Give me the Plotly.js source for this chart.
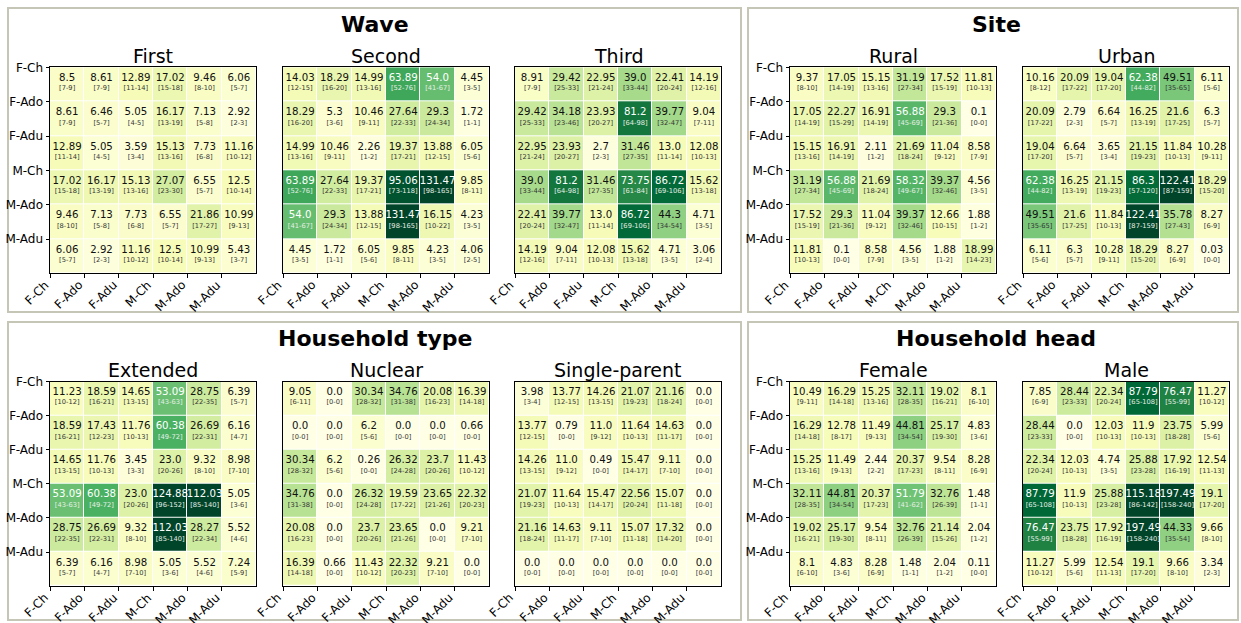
<!DOCTYPE html>
<html><head><meta charset="utf-8">
<script src="https://cdn.plot.ly/plotly-3.0.1.min.js"></script>
<style>body{margin:0;background:#fff}#chart{width:1241px;height:623px}</style>
</head><body><div id="chart"></div>
<script>
const labels = ['F-Ch','F-Ado','F-Adu','M-Ch','M-Ado','M-Adu'];
const groupTitles = ['Wave','Site','Household type','Household head'];
const panelTitles = ['First','Second','Third','Rural','Urban','Extended','Nuclear','Single-parent','Female','Male'];

const firstVals = [[8.5,8.61,12.89,17.02,9.46,6.06],[8.61,6.46,5.05,16.17,7.13,2.92],[12.89,5.05,3.59,15.13,7.73,11.16],[17.02,16.17,15.13,27.07,6.55,12.5],[9.46,7.13,7.73,6.55,21.86,10.99],[6.06,2.92,11.16,12.5,10.99,5.43]];
const firstCI = [["7-9","7-9","11-14","15-18","8-10","5-7"],["7-9","5-7","4-5","13-19","5-8","2-3"],["11-14","4-5","3-4","13-16","6-8","10-12"],["15-18","13-19","13-16","23-30","5-7","10-14"],["8-10","5-8","6-8","5-7","17-27","9-13"],["5-7","2-3","10-12","10-14","9-13","3-7"]];
const secondVals = [[14.03,18.29,14.99,63.89,54.0,4.45],[18.29,5.3,10.46,27.64,29.3,1.72],[14.99,10.46,2.26,19.37,13.88,6.05],[63.89,27.64,19.37,95.06,131.47,9.85],[54.0,29.3,13.88,131.47,16.15,4.23],[4.45,1.72,6.05,9.85,4.23,4.06]];
const secondCI = [["12-15","16-20","13-16","52-76","41-67","3-5"],["16-20","3-6","9-11","22-33","24-34","1-1"],["13-16","9-11","1-2","17-21","12-15","5-6"],["52-76","22-33","17-21","73-118","98-165","8-11"],["41-67","24-34","12-15","98-165","10-22","3-5"],["3-5","1-1","5-6","8-11","3-5","2-5"]];
const thirdVals = [[8.91,29.42,22.95,39.0,22.41,14.19],[29.42,34.18,23.93,81.2,39.77,9.04],[22.95,23.93,2.7,31.46,13.0,12.08],[39.0,81.2,31.46,73.75,86.72,15.62],[22.41,39.77,13.0,86.72,44.3,4.71],[14.19,9.04,12.08,15.62,4.71,3.06]];
const thirdCI = [["7-9","25-33","21-24","33-44","20-24","12-16"],["25-33","23-46","20-27","64-98","32-47","7-11"],["21-24","20-27","2-3","27-35","11-14","10-13"],["33-44","64-98","27-35","61-84","69-106","13-18"],["20-24","32-47","11-14","69-106","34-54","3-5"],["12-16","7-11","10-13","13-18","3-5","2-4"]];
const ruralVals = [[9.37,17.05,15.15,31.19,17.52,11.81],[17.05,22.27,16.91,56.88,29.3,0.1],[15.15,16.91,2.11,21.69,11.04,8.58],[31.19,56.88,21.69,58.32,39.37,4.56],[17.52,29.3,11.04,39.37,12.66,1.88],[11.81,0.1,8.58,4.56,1.88,18.99]];
const ruralCI = [["8-10","14-19","13-16","27-34","15-19","10-13"],["14-19","15-29","14-19","45-69","21-36","0-0"],["13-16","14-19","1-2","18-24","9-12","7-9"],["27-34","45-69","18-24","49-67","32-46","3-5"],["15-19","21-36","9-12","32-46","10-15","1-2"],["10-13","0-0","7-9","3-5","1-2","14-23"]];
const urbanVals = [[10.16,20.09,19.04,62.38,49.51,6.11],[20.09,2.79,6.64,16.25,21.6,6.3],[19.04,6.64,3.65,21.15,11.84,10.28],[62.38,16.25,21.15,86.3,122.41,18.29],[49.51,21.6,11.84,122.41,35.78,8.27],[6.11,6.3,10.28,18.29,8.27,0.03]];
const urbanCI = [["8-12","17-22","17-20","44-82","35-65","5-6"],["17-22","2-3","5-7","13-19","17-25","5-7"],["17-20","5-7","3-4","19-23","10-13","9-11"],["44-82","13-19","19-23","57-120","87-159","15-20"],["35-65","17-25","10-13","87-159","27-43","6-9"],["5-6","5-7","9-11","15-20","6-9","0-0"]];
const extendedVals = [[11.23,18.59,14.65,53.09,28.75,6.39],[18.59,17.43,11.76,60.38,26.69,6.16],[14.65,11.76,3.45,23.0,9.32,8.98],[53.09,60.38,23.0,124.88,112.03,5.05],[28.75,26.69,9.32,112.03,28.27,5.52],[6.39,6.16,8.98,5.05,5.52,7.24]];
const extendedCI = [["10-12","16-21","13-15","43-63","22-35","5-7"],["16-21","12-23","10-13","49-72","22-31","4-7"],["13-15","10-13","3-3","20-26","8-10","7-10"],["43-63","49-72","20-26","96-152","85-140","3-6"],["22-35","22-31","8-10","85-140","22-34","4-6"],["5-7","4-7","7-10","3-6","4-6","5-9"]];
const nuclearVals = [[9.05,0.0,30.34,34.76,20.08,16.39],[0.0,0.0,6.2,0.0,0.0,0.66],[30.34,6.2,0.26,26.32,23.7,11.43],[34.76,0.0,26.32,19.59,23.65,22.32],[20.08,0.0,23.7,23.65,0.0,9.21],[16.39,0.66,11.43,22.32,9.21,0.0]];
const nuclearCI = [["6-11","0-0","28-32","31-38","16-23","14-18"],["0-0","0-0","5-6","0-0","0-0","0-0"],["28-32","5-6","0-0","24-28","20-26","10-12"],["31-38","0-0","24-28","17-22","21-26","20-23"],["16-23","0-0","20-26","21-26","0-0","7-10"],["14-18","0-0","10-12","20-23","7-10","0-0"]];
const singleVals = [[3.98,13.77,14.26,21.07,21.16,0.0],[13.77,0.79,11.0,11.64,14.63,0.0],[14.26,11.0,0.49,15.47,9.11,0.0],[21.07,11.64,15.47,22.56,15.07,0.0],[21.16,14.63,9.11,15.07,17.32,0.0],[0.0,0.0,0.0,0.0,0.0,0.0]];
const singleCI = [["3-4","12-15","13-15","19-23","18-24","0-0"],["12-15","0-0","9-12","10-13","11-17","0-0"],["13-15","9-12","0-0","14-17","7-10","0-0"],["19-23","10-13","14-17","20-24","11-18","0-0"],["18-24","11-17","7-10","11-18","14-20","0-0"],["0-0","0-0","0-0","0-0","0-0","0-0"]];
const femaleVals = [[10.49,16.29,15.25,32.11,19.02,8.1],[16.29,12.78,11.49,44.81,25.17,4.83],[15.25,11.49,2.44,20.37,9.54,8.28],[32.11,44.81,20.37,51.79,32.76,1.48],[19.02,25.17,9.54,32.76,21.14,2.04],[8.1,4.83,8.28,1.48,2.04,0.11]];
const femaleCI = [["9-11","14-18","13-16","28-35","16-21","6-10"],["14-18","8-17","9-13","34-54","19-30","3-6"],["13-16","9-13","2-2","17-23","8-11","6-9"],["28-35","34-54","17-23","41-62","26-39","1-1"],["16-21","19-30","8-11","26-39","15-26","1-2"],["6-10","3-6","6-9","1-1","1-2","0-0"]];
const maleVals = [[7.85,28.44,22.34,87.79,76.47,11.27],[28.44,0.0,12.03,11.9,23.75,5.99],[22.34,12.03,4.74,25.88,17.92,12.54],[87.79,11.9,25.88,115.18,197.49,19.1],[76.47,23.75,17.92,197.49,44.33,9.66],[11.27,5.99,12.54,19.1,9.66,3.34]];
const maleCI = [["6-9","23-33","20-24","65-108","55-99","10-12"],["23-33","0-0","10-13","10-13","18-28","5-6"],["20-24","10-13","3-5","23-28","16-19","11-13"],["65-108","10-13","23-28","86-142","158-240","17-20"],["55-99","18-28","16-19","158-240","35-54","8-10"],["10-12","5-6","11-13","17-20","8-10","2-3"]];

const W = 1241, H = 623;
const FONT = 'DejaVu Sans, Verdana, sans-serif';
const panels = [
  {vals:firstVals, ci:firstCI, col:0, row:0, ylab:true},
  {vals:secondVals, ci:secondCI, col:1, row:0, ylab:false},
  {vals:thirdVals, ci:thirdCI, col:2, row:0, ylab:false},
  {vals:ruralVals, ci:ruralCI, col:3, row:0, ylab:true},
  {vals:urbanVals, ci:urbanCI, col:4, row:0, ylab:false},
  {vals:extendedVals, ci:extendedCI, col:0, row:1, ylab:true},
  {vals:nuclearVals, ci:nuclearCI, col:1, row:1, ylab:false},
  {vals:singleVals, ci:singleCI, col:2, row:1, ylab:false},
  {vals:femaleVals, ci:femaleCI, col:3, row:1, ylab:true},
  {vals:maleVals, ci:maleCI, col:4, row:1, ylab:false}
];
const colLeft = [50, 283, 515, 790, 1023];
const cellW = 34.35;
const rowTop = [67.3, 381.7];
const cellH = [34.35, 34.07];

const YlGn = [[0,'#ffffe5'],[0.125,'#f7fcb9'],[0.25,'#d9f0a3'],[0.375,'#addd8e'],[0.5,'#78c679'],[0.625,'#41ab5d'],[0.75,'#238443'],[0.875,'#006837'],[1,'#004529']];
const centers = [0.5,1.5,2.5,3.5,4.5,5.5];
const tickPos = [0,1,2,3,4,5];
const fmt = v => Number.isInteger(v) ? v.toFixed(1) : String(v);

const data = [];
const layout = {
  width: W, height: H, margin:{l:0,r:0,t:0,b:0},
  paper_bgcolor:'#ffffff', plot_bgcolor:'#ffffff',
  showlegend:false, font:{family:FONT, color:'#000'},
  annotations:[], shapes:[]
};

panels.forEach((p, k) => {
  const n = k + 1;
  const xa = 'x' + (n === 1 ? '' : n), ya = 'y' + (n === 1 ? '' : n);
  const x0 = colLeft[p.col], x1 = x0 + 6*cellW;
  const y0 = rowTop[p.row], y1 = y0 + 6*cellH[p.row];
  data.push({type:'heatmap', x:centers, y:centers, z:p.vals, zmin:0, zmax:100,
    colorscale:YlGn, showscale:false, xgap:1, ygap:1, hoverinfo:'skip', xaxis:xa, yaxis:ya});
  const tx=[], ty=[], tv=[], tc=[], bx=[], by=[], bt=[], bc=[];
  for (let i=0;i<6;i++) for (let j=0;j<6;j++) {
    const v = p.vals[i][j];
    const white = v > 50;
    tx.push(j+0.5); ty.push(i+0.32); tv.push(fmt(v)); tc.push(white?'#ffffff':'#111111');
    bx.push(j+0.5); by.push(i+0.62); bt.push('['+p.ci[i][j]+']'); bc.push(white?'#e8f0e8':'#333333');
  }
  data.push({type:'scatter', mode:'text', x:tx, y:ty, text:tv, textposition:'middle center',
    textfont:{family:FONT, size:10.2, color:tc}, hoverinfo:'skip', cliponaxis:false, xaxis:xa, yaxis:ya});
  data.push({type:'scatter', mode:'text', x:bx, y:by, text:bt, textposition:'middle center',
    textfont:{family:FONT, size:6.7, color:bc}, hoverinfo:'skip', cliponaxis:false, xaxis:xa, yaxis:ya});
  const common = {showgrid:false, zeroline:false, showline:true, mirror:true,
    linecolor:'#000', linewidth:1, ticks:'outside', ticklen:3.5, tickwidth:1, tickcolor:'#000',
    tickvals:tickPos, ticktext:labels, tickfont:{family:FONT, size:12, color:'#000'}, fixedrange:true};
  layout['xaxis' + (n===1?'':n)] = Object.assign({}, common, {
    domain:[x0/W, x1/W], range:[0,6], anchor:ya, showticklabels:false});
  layout['yaxis' + (n===1?'':n)] = Object.assign({}, common, {
    domain:[1-y1/H, 1-y0/H], range:[6,0], anchor:xa, showticklabels:p.ylab, ticks:p.ylab?'outside':''});
  // rotated x tick labels, anchored at their tick positions
  tickPos.forEach((t, j) => {
    layout.annotations.push({xref:xa, yref:'paper', x:t, y:1-(y1+4)/H, text:labels[j],
      textangle:-45, showarrow:false, xanchor:'right', yanchor:'top', xshift:4, yshift:2,
      font:{family:FONT, size:12, color:'#000'}});
  });
  layout.annotations.push({xref:'paper', yref:'paper', x:(x0+x1)/2/W, y:1-(p.row===0?56:370)/H,
    text:panelTitles[k], showarrow:false, xanchor:'center', yanchor:'middle',
    font:{family:FONT, size:19, color:'#000'}});
});

const boxes = [[8,8,741,312],[748,8,1238,312],[8,322,741,620],[748,322,1238,620]];
const gcx = [375, 996, 375, 996], gcy = [24, 24, 339, 339];
boxes.forEach((b, i) => {
  layout.shapes.push({type:'rect', xref:'paper', yref:'paper', x0:b[0]/W, x1:b[2]/W, y0:1-b[3]/H, y1:1-b[1]/H,
    line:{color:'#c6c6b6', width:2}, fillcolor:'rgba(0,0,0,0)', layer:'below'});
  layout.annotations.push({xref:'paper', yref:'paper', x:gcx[i]/W, y:1-gcy[i]/H, text:'<b>'+groupTitles[i]+'</b>',
    showarrow:false, xanchor:'center', yanchor:'middle', font:{family:FONT, size:22, color:'#000'}});
});

Plotly.newPlot('chart', data, layout, {staticPlot:true, displayModeBar:false});
</script></body></html>
